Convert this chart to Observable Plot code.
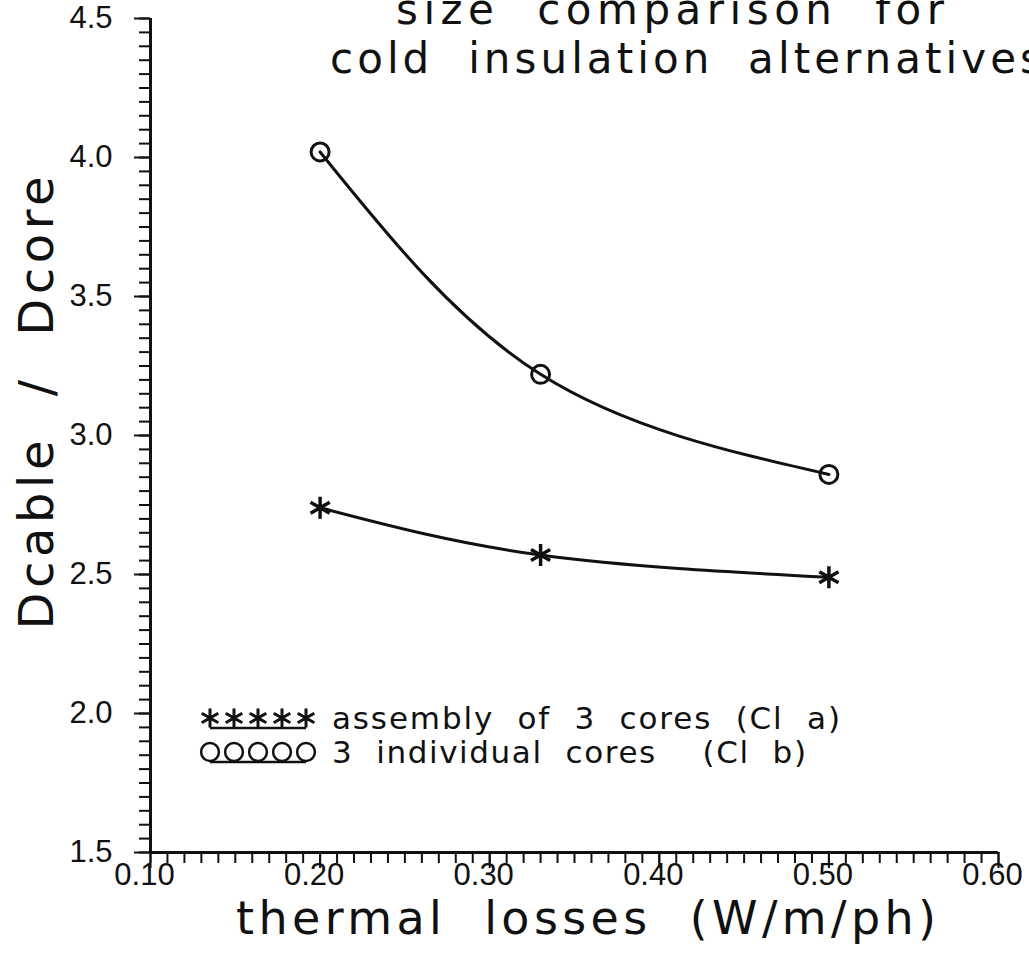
<!DOCTYPE html>
<html>
<head>
<meta charset="utf-8">
<script src="https://cdn.jsdelivr.net/npm/d3@7"></script>
<script src="https://cdn.jsdelivr.net/npm/@observablehq/plot@0.6"></script>
<style>
  html, body { margin: 0; padding: 0; background: #fff; }
  #chart { position: relative; width: 1029px; height: 955px; overflow: hidden; }
  #chart svg { display: block; }
  #chart svg g[aria-label$="tick label"] { font-size: 31px; }
  #chart svg .label { white-space: pre; }
</style>
</head>
<body>
<div id="chart"></div>
<script>
// Thermal losses (W/m/ph) for each design point
const losses = [0.20, 0.33, 0.50];
// Dcable / Dcore ratio, assembly of 3 cores (Cl a)
const ratioAssembly = [2.74, 2.57, 2.49];
// Dcable / Dcore ratio, 3 individual cores (Cl b)
const ratioIndividual = [4.02, 3.22, 2.86];

const seriesNames = ["assembly  of  3  cores  (Cl  a)", "3  individual  cores    (Cl  b)"];
const titleLines = ["size  comparison  for", "cold  insulation  alternatives"];
const xLabel = "thermal  losses  (W/m/ph)";
const yLabel = "Dcable  /  Dcore";

// Axis ticks
const xMajorTicks = [0.10, 0.20, 0.30, 0.40, 0.50, 0.60];
const yMajorTicks = [1.5, 2.0, 2.5, 3.0, 3.5, 4.0, 4.5];
const xMinorTicks = d3.ticks(0.10, 0.60, 50);   // every 0.01
const yMinorTicks = d3.ticks(1.5, 4.5, 60);     // every 0.05

const assembly = losses.map((x, i) => ({x, y: ratioAssembly[i]}));
const individual = losses.map((x, i) => ({x, y: ratioIndividual[i]}));

const tickFont = "'Liberation Sans', Arial, sans-serif";
const labelFont = "'DejaVu Sans', sans-serif";
const ink = "#111";

const plot = Plot.plot({
  width: 1029,
  height: 955,
  marginLeft: 150,
  marginTop: 18,
  marginRight: 31,
  marginBottom: 103,
  style: {fontFamily: tickFont, color: ink, background: "#fff", overflow: "hidden"},
  x: {domain: [0.10, 0.60]},
  y: {domain: [1.5, 4.5]},
  marks: [
    // minor and major ticks, pointing outward
    Plot.axisY({ticks: yMinorTicks, tickSize: 11, tickFormat: () => "", strokeWidth: 2, label: null}),
    Plot.axisY({ticks: yMajorTicks, tickSize: 16, tickPadding: 22, tickFormat: d3.format(".1f"),
      strokeWidth: 2, label: null}),
    Plot.axisX({ticks: xMinorTicks, tickSize: 11, tickFormat: () => "", strokeWidth: 2, label: null}),
    Plot.axisX({ticks: xMajorTicks, tickSize: 16, tickFormat: () => "", strokeWidth: 2, label: null}),
    Plot.axisX({ticks: xMajorTicks, tickSize: 0, tickPadding: 10, dx: -6, tickFormat: d3.format(".2f"), label: null}),
    // axis lines
    Plot.ruleX([0.10], {stroke: ink, strokeWidth: 3}),
    Plot.ruleY([1.5], {stroke: ink, strokeWidth: 3}),
    // curves
    Plot.line(individual, {x: "x", y: "y", curve: "natural", stroke: ink, strokeWidth: 3}),
    Plot.line(assembly, {x: "x", y: "y", curve: "natural", stroke: ink, strokeWidth: 3}),
    Plot.dot(individual, {x: "x", y: "y", symbol: "circle", r: 9, stroke: ink, strokeWidth: 3, fill: "none"}),
    Plot.dot(assembly, {x: "x", y: "y", symbol: "asterisk", r: 10.5, stroke: ink, strokeWidth: 3.5})
  ]
});

document.getElementById("chart").appendChild(plot);

const svg = d3.select(plot);

// Title, anchored at the top edge
const title = svg.append("g").attr("font-family", labelFont).attr("font-size", 42)
  .attr("fill", ink).attr("text-anchor", "start");
title.append("text").attr("class", "label").attr("x", 396).attr("y", 24)
  .attr("textLength", 548).attr("lengthAdjust", "spacing").text(titleLines[0]);
title.append("text").attr("class", "label").attr("x", 330).attr("y", 73)
  .attr("textLength", 712).attr("lengthAdjust", "spacing").text(titleLines[1]);

// Axis titles
svg.append("text")
  .attr("class", "label")
  .attr("transform", "translate(53,403) rotate(-90)")
  .attr("text-anchor", "middle")
  .attr("font-family", labelFont).attr("font-size", 48).attr("fill", ink)
  .attr("textLength", 453).attr("lengthAdjust", "spacing")
  .text(yLabel);

svg.append("text")
  .attr("class", "label")
  .attr("x", 236).attr("y", 934)
  .attr("text-anchor", "start")
  .attr("font-family", labelFont).attr("font-size", 46).attr("fill", ink)
  .attr("textLength", 700).attr("lengthAdjust", "spacing")
  .text(xLabel);

// Legend: five sample markers on an underline, then the series name
const legend = svg.append("g").attr("font-family", labelFont).attr("font-size", 31)
  .attr("fill", ink).attr("text-anchor", "start");
const sampleX = [210, 234, 258, 282, 306];
const legendRows = [
  {y: 718, symbol: d3.symbolAsterisk, size: 260, underline: 728, name: seriesNames[0], width: 508},
  {y: 752, symbol: d3.symbolCircle, size: 250, underline: 762, name: seriesNames[1], width: 474}
];
legendRows.forEach(row => {
  legend.append("line")
    .attr("x1", sampleX[0]).attr("x2", sampleX[sampleX.length - 1])
    .attr("y1", row.underline).attr("y2", row.underline)
    .attr("stroke", ink).attr("stroke-width", 2.5);
  sampleX.forEach(x => {
    legend.append("path")
      .attr("transform", `translate(${x},${row.y})`)
      .attr("d", d3.symbol(row.symbol, row.size)())
      .attr("fill", "none").attr("stroke", ink)
      .attr("stroke-width", row.symbol === d3.symbolAsterisk ? 3 : 2.5);
  });
  legend.append("text")
    .attr("class", "label")
    .attr("x", 332).attr("y", row.y + 11)
    .attr("textLength", row.width).attr("lengthAdjust", "spacing")
    .text(row.name);
});
</script>
</body>
</html>
